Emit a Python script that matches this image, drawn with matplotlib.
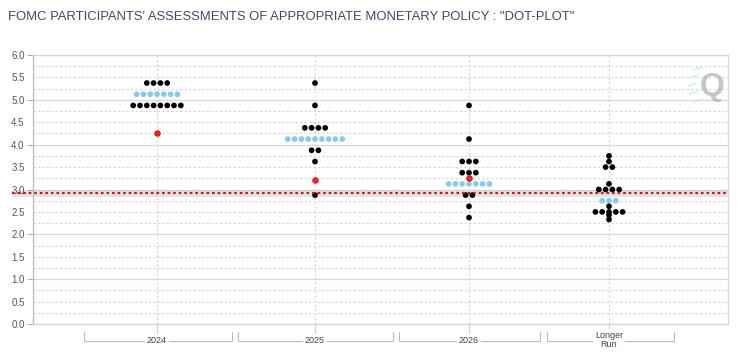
import matplotlib
matplotlib.use("Agg")
import matplotlib.pyplot as plt
import matplotlib.transforms as mtransforms
import numpy as np

plt.rcParams['font.family'] = ['Liberation Sans', 'DejaVu Sans']

title = 'FOMC PARTICIPANTS\' ASSESSMENTS OF APPROPRIATE MONETARY POLICY : "DOT-PLOT"'
categories = ["2024", "2025", "2026", "Longer\nRun"]

# participant dots: rate level and number of dots at that level
rates_2024 = [5.375, 5.125, 4.875]
counts_2024 = [4, 7, 8]
rates_2025 = [5.375, 4.875, 4.375, 4.125, 3.875, 3.625, 2.875]
counts_2025 = [1, 1, 4, 9, 2, 1, 1]
rates_2026 = [4.875, 4.125, 3.625, 3.375, 3.125, 2.875, 2.625, 2.375]
counts_2026 = [1, 1, 3, 3, 7, 2, 1, 1]
rates_lr = [3.75, 3.625, 3.5, 3.125, 3.0, 2.75, 2.625, 2.5, 2.43, 2.33]
counts_lr = [1, 1, 2, 1, 4, 3, 1, 5, 1, 1]

median_rates = [5.125, 4.125, 3.125, 2.75]
market_rates = [4.27, 3.21, 3.26]
market_line = 2.93

all_rates = [rates_2024, rates_2025, rates_2026, rates_lr]
all_counts = [counts_2024, counts_2025, counts_2026, counts_lr]

# layout (x in pixel units of the plot)
x_left, x_right = 33, 728
centers = [157, 315, 469, 609]
brackets = [(84, 232), (238, 393), (399, 540), (547, 674)]
dot_step = 6.8

fig = plt.figure(figsize=(7.4, 3.56), dpi=100)
ax = fig.add_axes([x_left / 740, 32 / 356, (x_right - x_left) / 740, 269 / 356])
ax.set_xlim(x_left, x_right)
ax.set_ylim(0, 6)

# horizontal grid
for v in np.arange(0, 6.01, 0.25):
    if abs(v - round(v)) < 1e-9:
        ax.axhline(v, color='#d9d9d9', lw=0.9, zorder=0)
    else:
        ax.axhline(v, color='#d4d4d4', lw=0.8, ls=(0, (2, 2)), zorder=0)

for c in centers:
    ax.axvline(c, color='#d4d4d4', lw=0.8, ls=(0, (2, 2)), zorder=0)

# dots
for c, rates, counts, med in zip(centers, all_rates, all_counts, median_rates):
    for r, n in zip(rates, counts):
        xs = c + (np.arange(n) - (n - 1) / 2) * dot_step
        col = '#87cbe6' if r == med else '#000000'
        ax.scatter(xs, [r] * n, s=17, color=col, edgecolors='none', zorder=3)

ax.scatter(centers[:3], market_rates, s=16, color='#ff2020', edgecolors='#b00000',
           linewidths=0.5, zorder=4)

# market line with soft shadow, reaching over the axis labels
blend = mtransforms.blended_transform_factory(ax.transAxes, ax.transData)
ax.plot([-0.03, 1], [market_line, market_line], transform=blend, color='#cccccc',
        lw=5, alpha=0.5, clip_on=False, zorder=1, solid_capstyle='butt')
ax.plot([-0.03, 1], [market_line, market_line], transform=blend, color='#e01010',
        lw=1.6, ls=(0, (1.2, 1.3)), clip_on=False, zorder=5)

# axes styling
ax.set_yticks(np.arange(0, 6.01, 1))
ax.set_yticks(np.arange(0.5, 6, 1), minor=True)
ax.set_yticklabels([f'{v:.1f}' for v in np.arange(0, 6.01, 1)])
ax.set_yticklabels([f'{v:.1f}' for v in np.arange(0.5, 6, 1)], minor=True)
ax.tick_params(axis='y', which='major', length=4, color='#b0b0b0', labelsize=7,
               labelcolor='#555555', pad=2)
ax.tick_params(axis='y', which='minor', length=0, labelsize=7,
               labelcolor='#555555', pad=6)
ax.set_xticks(centers)
ax.set_xticklabels([])
ax.tick_params(axis='x', length=7, color='#d0d0d0', width=0.8)
for side in ['top', 'right', 'bottom']:
    ax.spines[side].set_color('#d6d6d6')
    ax.spines[side].set_linewidth(0.9)
ax.spines['left'].set_color('#bdbdbd')
ax.spines['left'].set_linewidth(0.9)

# category brackets below the axis
xb = mtransforms.blended_transform_factory(ax.transData, fig.transFigure)
y_top = 1 - 332 / 356
y_bot = 1 - 341 / 356
for (x0, x1), c, lab in zip(brackets, centers, categories):
    ax.plot([x0, x0, x1, x1], [y_top, y_bot, y_bot, y_top], transform=xb,
            color='#bcbcbc', lw=0.8, clip_on=False)
    ax.text(c, y_bot + 0.002, lab, transform=xb, ha='center', va='center',
            fontsize=6.5, color='#444444', linespacing=1.05,
            bbox=dict(facecolor='white', edgecolor='none', pad=1.5))

fig.text(8 / 740, 1 - 17 / 356, title, fontsize=9.4, color='#3c4a6a', va='center')

# watermark
fig.text(712 / 740, 1 - 87 / 356, 'Q', fontsize=23, fontweight='bold', color='#b8b8b8',
         ha='center', va='center', alpha=0.8)
for yy, xx in zip([70, 78, 86, 94, 102], [694, 690, 688, 690, 694]):
    fig.add_artist(plt.Line2D([xx / 740, (xx + 8) / 740], [1 - yy / 356, 1 - (yy - 3) / 356],
                              color='#bfe3f2', lw=1.0, alpha=0.7))

fig.savefig('out.png', dpi=100)
